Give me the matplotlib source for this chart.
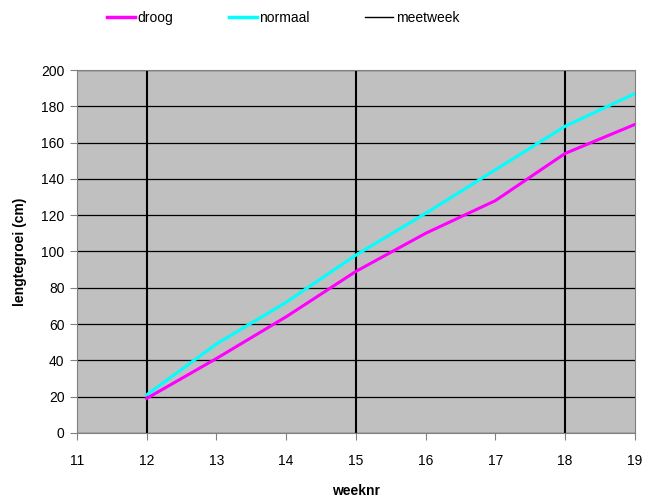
import matplotlib.pyplot as plt
from matplotlib.lines import Line2D

plt.rcParams['font.family'] = ['Liberation Sans', 'DejaVu Sans']

# data
weeks = [12, 13, 14, 15, 16, 17, 18, 19]
droog = [19, 41, 64, 89, 110, 128, 154, 170]
normaal = [21, 49, 72, 98, 121, 145, 169, 187]
meetweken = [12, 15, 18]

fs = 10

fig = plt.figure(figsize=(6.47, 4.97), dpi=100)
ax = fig.add_axes([0.119, 0.129, 0.862, 0.730])
ax.set_facecolor('#c0c0c0')

for w in meetweken:
    ax.axvline(w, color='black', lw=1.5, zorder=2)
ax.plot(weeks, normaal, color='#00ffff', lw=2.2, zorder=3)
ax.plot(weeks, droog, color='#ff00ff', lw=2.2, zorder=3)

ax.set_xlim(11, 19)
ax.set_ylim(0, 200)
ax.set_xticks(range(11, 20))
ax.set_yticks(range(0, 201, 20))
ax.yaxis.grid(True, color='black', lw=0.9)
ax.set_axisbelow(True)
for s in ax.spines.values():
    s.set_color('#808080')
ax.tick_params(colors='#808080', labelcolor='black', labelsize=fs, length=5)
ax.tick_params(axis='x', pad=10)
ax.tick_params(axis='y', pad=4)

ax.set_xlabel('weeknr', fontsize=fs, fontweight='bold', labelpad=12)
ax.set_ylabel('lengtegroei (cm)', fontsize=fs, fontweight='bold', labelpad=10)

handles = [Line2D([], [], color='#ff00ff', lw=2.5),
           Line2D([], [], color='#00ffff', lw=2.5),
           Line2D([], [], color='black', lw=1)]
fig.legend(handles, ['droog', 'normaal', 'meetweek'], loc='center left',
           bbox_to_anchor=(107 / 647, 1 - 18 / 497), ncol=3, frameon=False,
           fontsize=fs, handlelength=2.0, handletextpad=0.2,
           columnspacing=4.0, borderpad=0, borderaxespad=0)

fig.savefig('out.png', dpi=100)
